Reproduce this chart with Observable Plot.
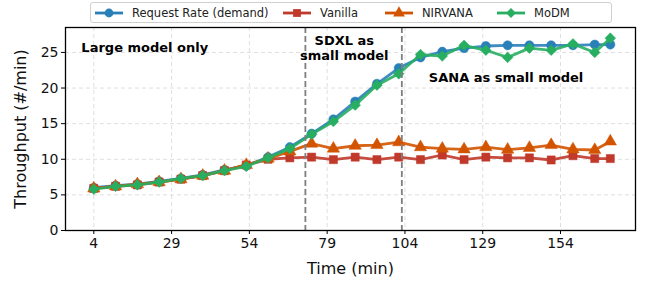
<!DOCTYPE html>
<html>
<head>
<meta charset="utf-8">
<script src="https://cdn.jsdelivr.net/npm/d3@7"></script>
<script src="https://cdn.jsdelivr.net/npm/@observablehq/plot@0.6"></script>
<style>
  html, body { margin: 0; padding: 0; background: #fff; }
  #wrap { position: relative; width: 646px; height: 285px; font-family: "DejaVu Sans", sans-serif; }
  #legend { position: absolute; left: 90px; top: 2px; width: 522px; height: 21px; border: 1px solid #d0d0d0; border-radius: 3px; background: #fff; display: flex; align-items: center; box-sizing: border-box; font-size: 11.5px; color: #222; z-index: 2; }
  .item { display: flex; align-items: center; position: absolute; top: 0; height: 100%; }
  .item svg { margin-right: 9px; }
</style>
</head>
<body>
<div id="wrap"><div id="legend"></div><div id="chart"></div></div>
<script>
const times = [4, 11, 18, 25, 32, 39, 46, 53, 60, 67, 74, 81, 88, 95, 102, 109, 116, 123, 130, 137, 144, 151, 158, 165, 170];
const requestRate = [6.0, 6.3, 6.5, 6.9, 7.3, 7.8, 8.5, 9.1, 10.3, 11.7, 13.6, 15.6, 18.1, 20.6, 22.8, 24.3, 25.1, 25.6, 25.9, 26.0, 26.0, 26.0, 26.0, 26.1, 26.1];
const vanilla = [5.9, 6.2, 6.4, 6.8, 7.2, 7.7, 8.4, 9.2, 10.0, 10.2, 10.3, 9.95, 10.3, 9.95, 10.3, 9.95, 10.6, 9.95, 10.3, 10.2, 10.2, 9.9, 10.5, 10.1, 10.1];
const nirvana = [5.9, 6.2, 6.5, 6.8, 7.2, 7.7, 8.4, 9.2, 10.1, 11.1, 12.2, 11.5, 11.9, 12.0, 12.4, 11.7, 11.5, 11.4, 11.7, 11.35, 11.6, 12.0, 11.4, 11.3, 12.5];
const modm = [5.8, 6.2, 6.4, 6.8, 7.3, 7.7, 8.4, 9.0, 10.2, 11.5, 13.5, 15.3, 17.6, 20.4, 22.0, 24.7, 24.5, 26.0, 25.3, 24.3, 25.6, 25.3, 26.2, 25.0, 27.0];
const seriesNames = ["Request Rate (demand)", "Vanilla", "NIRVANA", "MoDM"];
const seriesValues = [requestRate, vanilla, nirvana, modm];
const seriesColors = ["#2980b9", "#c0392b", "#d35400", "#27ae60"];
const seriesSymbols = ["circle", "square", "triangle", "diamond2"];
const xTicks = [4, 29, 54, 79, 104, 129, 154];
const yTicks = [0, 5, 10, 15, 20, 25];
const phaseBoundaries = [72, 103];
const annotationTexts = ["Large model only", "SDXL as\nsmall model", "SANA as small model"];
const annotationX = [0, 84.5, 136.5];
const annotationY = [25.8, 25.7, 21.5];
const annotationAnchor = ["start", "middle", "middle"];

const rows = [];
seriesNames.forEach((name, i) => {
  times.forEach((t, j) => rows.push({series: name, t, v: seriesValues[i][j]}));
});
const annotations = annotationTexts.map((text, i) => ({text, x: annotationX[i], y: annotationY[i], anchor: annotationAnchor[i]}));

const marks = [
  Plot.gridX(xTicks, {stroke: "#b0b0b0", strokeOpacity: 0.5, strokeDasharray: "4,3", strokeWidth: 0.8}),
  Plot.gridY(yTicks, {stroke: "#b0b0b0", strokeOpacity: 0.5, strokeDasharray: "4,3", strokeWidth: 0.8})
];
seriesNames.forEach((name, i) => {
  const d = rows.filter(r => r.series === name);
  marks.push(Plot.line(d, {x: "t", y: "v", stroke: seriesColors[i], strokeWidth: 2.8, strokeOpacity: 0.9}));
  marks.push(Plot.dot(d, {x: "t", y: "v", fill: seriesColors[i], stroke: seriesColors[i], strokeWidth: 0.5, symbol: seriesSymbols[i], r: i === 3 ? 4.8 : 4.6}));
});
marks.push(Plot.ruleX(phaseBoundaries, {stroke: "#7f7f7f", strokeWidth: 1.8, strokeDasharray: "6,3"}));
annotations.forEach(a => {
  marks.push(Plot.text([a], {x: "x", y: "y", text: "text", textAnchor: a.anchor, fontWeight: "bold", fontSize: 13, lineHeight: 1.15, fill: "#000"}));
});
marks.push(Plot.frame({stroke: "#000", strokeWidth: 1.3}));
marks.push(Plot.axisX(xTicks, {tickSize: 4, tickPadding: 4, fontSize: 14, label: null, stroke: "#000"}));
marks.push(Plot.axisY(yTicks, {tickSize: 4, tickPadding: 3, fontSize: 14, label: null, stroke: "#000"}));
marks.push(Plot.text(["Time (min)"], {frameAnchor: "bottom", dy: 43, fontSize: 16, fill: "#111"}));
marks.push(Plot.text(["Throughput (#/min)"], {frameAnchor: "left", textAnchor: "middle", dx: -45, rotate: -90, fontSize: 16, fill: "#111"}));

const chart = Plot.plot({
  width: 646,
  height: 285,
  marginLeft: 65,
  marginRight: 11,
  marginTop: 27,
  marginBottom: 55,
  style: {fontFamily: "DejaVu Sans, sans-serif", color: "#111", background: "#fff"},
  x: {domain: [-5.1, 178.1]},
  y: {domain: [0, 28.5]},
  marks
});
document.getElementById("chart").appendChild(chart);

// legend
const legend = document.getElementById("legend");
const itemLeft = [4, 192, 294, 406];
seriesNames.forEach((name, i) => {
  const item = document.createElement("div");
  item.className = "item";
  item.style.left = itemLeft[i] + "px";
  const sym = d3.create("svg").attr("width", 28).attr("height", 14);
  sym.append("line").attr("x1", 0).attr("x2", 28).attr("y1", 7).attr("y2", 7).attr("stroke", seriesColors[i]).attr("stroke-width", 2.8);
  const symType = [d3.symbolCircle, d3.symbolSquare, d3.symbolTriangle, d3.symbolDiamond2][i];
  sym.append("path").attr("d", d3.symbol(symType, 4.4 * 4.4 * Math.PI)()).attr("transform", "translate(14,7)").attr("fill", seriesColors[i]);
  item.appendChild(sym.node());
  const label = document.createElement("span");
  label.textContent = name;
  item.appendChild(label);
  legend.appendChild(item);
});
</script>
</body>
</html>
